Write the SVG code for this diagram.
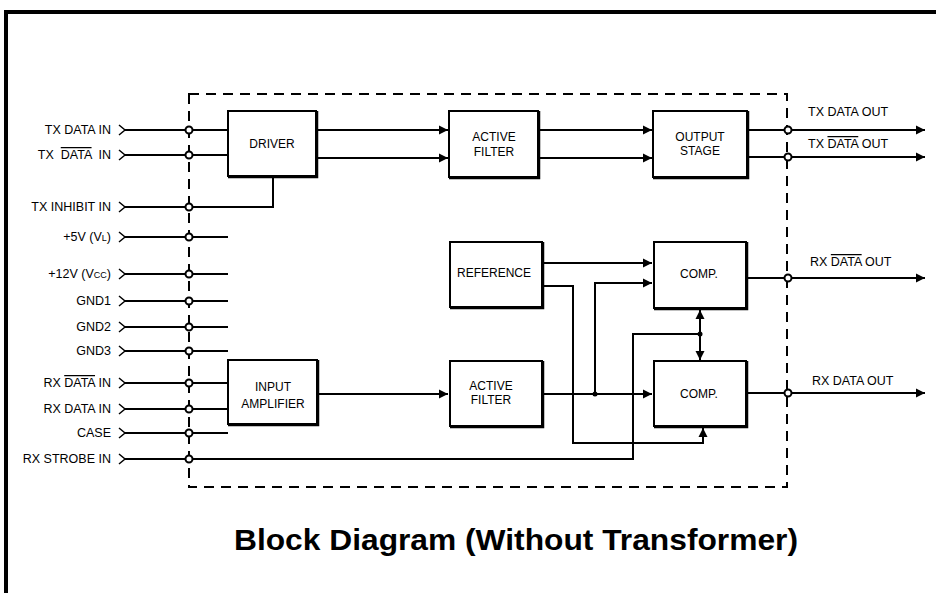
<svg xmlns="http://www.w3.org/2000/svg" width="936" height="593" viewBox="0 0 936 593">
<defs>
<style>
.t{font-family:"Liberation Sans",Arial,sans-serif;font-size:12px;fill:#000}
.lb{font-size:12.5px}
.l{text-anchor:end}
.c{text-anchor:middle}
.box{fill:#fff;stroke:#000;stroke-width:2}
.sh{fill:none;stroke:#000;stroke-width:2.5}
.w{fill:none;stroke:#000;stroke-width:2}
.chev{fill:none;stroke:#000;stroke-width:1.5}
.pin{fill:#fff;stroke:#000;stroke-width:2}
.ob{text-decoration:overline}
</style>
<marker id="ah" markerWidth="10" markerHeight="10" refX="9" refY="5" orient="auto-start-reverse" markerUnits="userSpaceOnUse"><path d="M0,0.5 L9,5 L0,9.5 z" fill="#000"/></marker>
</defs>
<rect width="936" height="593" fill="#fff"/>
<g id="frame">
<path d="M6,593 V12 H936" fill="none" stroke="#000" stroke-width="4"/>
<rect x="189" y="94" width="598" height="393" fill="none" stroke="#000" stroke-width="2" stroke-dasharray="10,7"/>
</g>
<g id="connectors">
<path class="w" d="M125,130 H228 M125,155 H228 M125,207 H273 V177 M125,237 H228 M125,274 H228 M125,301 H228 M125,327 H228 M125,351 H228 M125,383 H228 M125,409 H228 M125,433 H228 M125,459 H633 V334 H700"/>
<path class="w" d="M318,130 H448" marker-end="url(#ah)"/>
<path class="w" d="M318,158 H448" marker-end="url(#ah)"/>
<path class="w" d="M540,130 H652" marker-end="url(#ah)"/>
<path class="w" d="M540,158 H652" marker-end="url(#ah)"/>
<path class="w" d="M749,130 H925" marker-end="url(#ah)"/>
<path class="w" d="M749,157 H925" marker-end="url(#ah)"/>
<path class="w" d="M319,394 H448" marker-end="url(#ah)"/>
<path class="w" d="M544,394 H652" marker-end="url(#ah)"/>
<path class="w" d="M544,263 H652" marker-end="url(#ah)"/>
<path class="w" d="M595,394 V283 H652" marker-end="url(#ah)"/>
<path class="w" d="M544,286 H573 V443 H703 V428" marker-end="url(#ah)"/>
<path class="w" d="M700,310 V360" marker-start="url(#ah)" marker-end="url(#ah)"/>
<path class="w" d="M748,278 H925" marker-end="url(#ah)"/>
<path class="w" d="M748,393 H925" marker-end="url(#ah)"/>
<circle cx="595" cy="394" r="2.5" fill="#000"/>
<circle cx="700" cy="334" r="2.5" fill="#000"/>
<path class="chev" d="M119,125 L125,130 L119,135 M119,150 L125,155 L119,160 M119,202 L125,207 L119,212 M119,232 L125,237 L119,242 M119,269 L125,274 L119,279 M119,296 L125,301 L119,306 M119,322 L125,327 L119,332 M119,346 L125,351 L119,356 M119,378 L125,383 L119,388 M119,404 L125,409 L119,414 M119,428 L125,433 L119,438 M119,454 L125,459 L119,464"/>
<g class="pin">
<circle cx="189" cy="130" r="3.5"/><circle cx="189" cy="155" r="3.5"/><circle cx="189" cy="207" r="3.5"/>
<circle cx="189" cy="237" r="3.5"/><circle cx="189" cy="274" r="3.5"/><circle cx="189" cy="301" r="3.5"/>
<circle cx="189" cy="327" r="3.5"/><circle cx="189" cy="351" r="3.5"/><circle cx="189" cy="383" r="3.5"/>
<circle cx="189" cy="409" r="3.5"/><circle cx="189" cy="433" r="3.5"/><circle cx="189" cy="459" r="3.5"/>
<circle cx="788" cy="130" r="3.5"/><circle cx="788" cy="157" r="3.5"/>
<circle cx="788" cy="278" r="3.5"/><circle cx="788" cy="393" r="3.5"/>
</g>
</g>
<g id="driver">
<rect class="box" x="228" y="111" width="88" height="65"/>
<path class="sh" d="M317,111 V177 H228"/>
<text class="t c" x="272" y="148">DRIVER</text>
</g>
<g id="active-filter-tx">
<rect class="box" x="449" y="111" width="89" height="66"/>
<path class="sh" d="M539,111 V178 H449"/>
<text class="t c" x="494" y="141">ACTIVE</text>
<text class="t c" x="494" y="156">FILTER</text>
</g>
<g id="output-stage">
<rect class="box" x="653" y="111" width="94" height="66"/>
<path class="sh" d="M748,111 V178 H653"/>
<text class="t c" x="700" y="141">OUTPUT</text>
<text class="t c" x="700" y="155">STAGE</text>
</g>
<g id="reference">
<rect class="box" x="450" y="242" width="92" height="65"/>
<path class="sh" d="M543,242 V308 H450"/>
<text class="t c" x="494" y="277">REFERENCE</text>
</g>
<g id="comp-top">
<rect class="box" x="654" y="242" width="92" height="66"/>
<path class="sh" d="M747,242 V309 H654"/>
<text class="t c" x="699" y="278">COMP.</text>
</g>
<g id="active-filter-rx">
<rect class="box" x="450" y="361" width="92" height="65"/>
<path class="sh" d="M543,361 V427 H450"/>
<text class="t c" x="491" y="390">ACTIVE</text>
<text class="t c" x="491" y="404">FILTER</text>
</g>
<g id="comp-bottom">
<rect class="box" x="654" y="361" width="92" height="65"/>
<path class="sh" d="M747,361 V427 H654"/>
<text class="t c" x="699" y="398">COMP.</text>
</g>
<g id="input-amplifier">
<rect class="box" x="228" y="360" width="89" height="64"/>
<path class="sh" d="M318,360 V425 H228"/>
<text class="t c" x="273" y="391">INPUT</text>
<text class="t c" x="273" y="408">AMPLIFIER</text>
</g>
<g id="labels">
<text class="t lb l" x="111" y="134">TX DATA IN</text>
<text class="t lb l" x="111" y="159" xml:space="preserve">TX  <tspan class="ob">DATA</tspan>  IN</text>
<text class="t lb l" x="111" y="211">TX INHIBIT IN</text>
<text class="t lb l" x="111" y="241">+5V (V<tspan font-size="9">L</tspan>)</text>
<text class="t lb l" x="111" y="278">+12V (V<tspan font-size="9">CC</tspan>)</text>
<text class="t lb l" x="111" y="305">GND1</text>
<text class="t lb l" x="111" y="331">GND2</text>
<text class="t lb l" x="111" y="355">GND3</text>
<text class="t lb l" x="111" y="387">RX <tspan class="ob">DATA</tspan> IN</text>
<text class="t lb l" x="111" y="413">RX DATA IN</text>
<text class="t lb l" x="111" y="437">CASE</text>
<text class="t lb l" x="111" y="463">RX STROBE IN</text>
<text class="t lb" x="808" y="116">TX DATA OUT</text>
<text class="t lb" x="808" y="148">TX <tspan class="ob">DATA</tspan> OUT</text>
<text class="t lb" x="810" y="266">RX <tspan class="ob">DATA</tspan> OUT</text>
<text class="t lb" x="812" y="385">RX DATA OUT</text>
</g>
<text x="234" y="550" font-family="'Liberation Sans',Arial,sans-serif" font-size="29" font-weight="bold" textLength="564" lengthAdjust="spacingAndGlyphs">Block Diagram (Without Transformer)</text>
</svg>
